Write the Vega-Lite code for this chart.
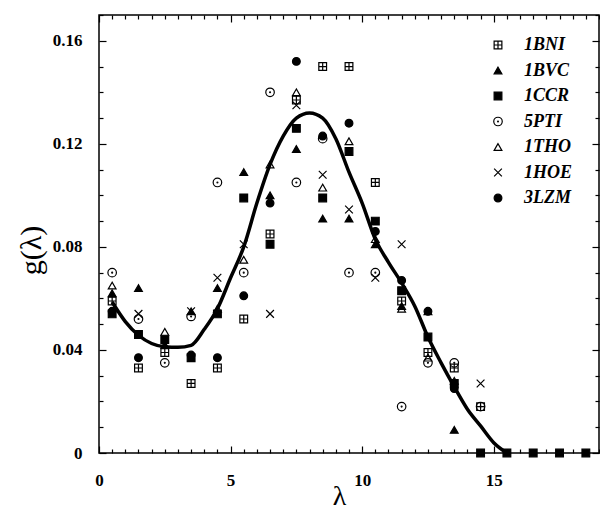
{
  "$schema": "https://vega.github.io/schema/vega-lite/v6.json",
  "width": 500,
  "height": 438,
  "autosize": {"type": "none"},
  "padding": {"left": 99, "top": 15, "right": 1, "bottom": 61},
  "background": "white",
  "config": {
    "view": {"stroke": "black", "strokeWidth": 1.5},
    "axis": {
      "domain": false,
      "grid": false,
      "labelFont": "Liberation Serif",
      "labelFontWeight": "bold",
      "labelFontSize": 17,
      "labelColor": "black",
      "labelOverlap": false,
      "labelFlush": false,
      "labelBound": false,
      "titleFont": "Liberation Serif",
      "titleFontWeight": "normal",
      "titleColor": "black"
    },
    "legend": {"padding": 0}
  },
  "datasets": {
    "points": [
      {"protein": "1BNI", "x": 0.5, "g": 0.059},
      {"protein": "1BNI", "x": 1.5, "g": 0.033},
      {"protein": "1BNI", "x": 2.5, "g": 0.039},
      {"protein": "1BNI", "x": 3.5, "g": 0.027},
      {"protein": "1BNI", "x": 4.5, "g": 0.033},
      {"protein": "1BNI", "x": 5.5, "g": 0.052},
      {"protein": "1BNI", "x": 6.5, "g": 0.085},
      {"protein": "1BNI", "x": 7.5, "g": 0.137},
      {"protein": "1BNI", "x": 8.5, "g": 0.150},
      {"protein": "1BNI", "x": 9.5, "g": 0.150},
      {"protein": "1BNI", "x": 10.5, "g": 0.105},
      {"protein": "1BNI", "x": 11.5, "g": 0.059},
      {"protein": "1BNI", "x": 12.5, "g": 0.039},
      {"protein": "1BNI", "x": 13.5, "g": 0.033},
      {"protein": "1BNI", "x": 14.5, "g": 0.018},
      {"protein": "1BVC", "x": 0.5, "g": 0.062},
      {"protein": "1BVC", "x": 1.5, "g": 0.064},
      {"protein": "1BVC", "x": 2.5, "g": 0.042},
      {"protein": "1BVC", "x": 3.5, "g": 0.055},
      {"protein": "1BVC", "x": 4.5, "g": 0.064},
      {"protein": "1BVC", "x": 5.5, "g": 0.109},
      {"protein": "1BVC", "x": 6.5, "g": 0.100},
      {"protein": "1BVC", "x": 7.5, "g": 0.118},
      {"protein": "1BVC", "x": 8.5, "g": 0.091},
      {"protein": "1BVC", "x": 9.5, "g": 0.091},
      {"protein": "1BVC", "x": 10.5, "g": 0.081},
      {"protein": "1BVC", "x": 11.5, "g": 0.057},
      {"protein": "1BVC", "x": 12.5, "g": 0.055},
      {"protein": "1BVC", "x": 13.5, "g": 0.009},
      {"protein": "1CCR", "x": 0.5, "g": 0.054},
      {"protein": "1CCR", "x": 1.5, "g": 0.046},
      {"protein": "1CCR", "x": 2.5, "g": 0.044},
      {"protein": "1CCR", "x": 3.5, "g": 0.037},
      {"protein": "1CCR", "x": 4.5, "g": 0.054},
      {"protein": "1CCR", "x": 5.5, "g": 0.099},
      {"protein": "1CCR", "x": 6.5, "g": 0.081},
      {"protein": "1CCR", "x": 7.5, "g": 0.126},
      {"protein": "1CCR", "x": 8.5, "g": 0.099},
      {"protein": "1CCR", "x": 9.5, "g": 0.117},
      {"protein": "1CCR", "x": 10.5, "g": 0.090},
      {"protein": "1CCR", "x": 11.5, "g": 0.063},
      {"protein": "1CCR", "x": 12.5, "g": 0.045},
      {"protein": "1CCR", "x": 13.5, "g": 0.027},
      {"protein": "1CCR", "x": 14.5, "g": 0},
      {"protein": "1CCR", "x": 15.5, "g": 0},
      {"protein": "1CCR", "x": 16.5, "g": 0},
      {"protein": "1CCR", "x": 17.5, "g": 0},
      {"protein": "1CCR", "x": 18.5, "g": 0},
      {"protein": "5PTI", "x": 0.5, "g": 0.070},
      {"protein": "5PTI", "x": 1.5, "g": 0.052},
      {"protein": "5PTI", "x": 2.5, "g": 0.035},
      {"protein": "5PTI", "x": 3.5, "g": 0.053},
      {"protein": "5PTI", "x": 4.5, "g": 0.105},
      {"protein": "5PTI", "x": 5.5, "g": 0.070},
      {"protein": "5PTI", "x": 6.5, "g": 0.140},
      {"protein": "5PTI", "x": 7.5, "g": 0.105},
      {"protein": "5PTI", "x": 8.5, "g": 0.122},
      {"protein": "5PTI", "x": 9.5, "g": 0.070},
      {"protein": "5PTI", "x": 10.5, "g": 0.070},
      {"protein": "5PTI", "x": 11.5, "g": 0.018},
      {"protein": "5PTI", "x": 12.5, "g": 0.035},
      {"protein": "5PTI", "x": 13.5, "g": 0.035},
      {"protein": "5PTI", "x": 14.5, "g": 0.018},
      {"protein": "1THO", "x": 0.5, "g": 0.065},
      {"protein": "1THO", "x": 2.5, "g": 0.047},
      {"protein": "1THO", "x": 4.5, "g": 0.056},
      {"protein": "1THO", "x": 5.5, "g": 0.075},
      {"protein": "1THO", "x": 6.5, "g": 0.112},
      {"protein": "1THO", "x": 7.5, "g": 0.140},
      {"protein": "1THO", "x": 8.5, "g": 0.103},
      {"protein": "1THO", "x": 9.5, "g": 0.121},
      {"protein": "1THO", "x": 10.5, "g": 0.083},
      {"protein": "1THO", "x": 11.5, "g": 0.056},
      {"protein": "1THO", "x": 12.5, "g": 0.037},
      {"protein": "1THO", "x": 13.5, "g": 0.028},
      {"protein": "1HOE", "x": 1.5, "g": 0.054},
      {"protein": "1HOE", "x": 3.5, "g": 0.055},
      {"protein": "1HOE", "x": 4.5, "g": 0.068},
      {"protein": "1HOE", "x": 5.5, "g": 0.081},
      {"protein": "1HOE", "x": 6.5, "g": 0.054},
      {"protein": "1HOE", "x": 7.5, "g": 0.135},
      {"protein": "1HOE", "x": 8.5, "g": 0.108},
      {"protein": "1HOE", "x": 9.5, "g": 0.0945},
      {"protein": "1HOE", "x": 10.5, "g": 0.068},
      {"protein": "1HOE", "x": 11.5, "g": 0.081},
      {"protein": "1HOE", "x": 14.5, "g": 0.027},
      {"protein": "3LZM", "x": 0.5, "g": 0.055},
      {"protein": "3LZM", "x": 1.5, "g": 0.037},
      {"protein": "3LZM", "x": 3.5, "g": 0.038},
      {"protein": "3LZM", "x": 4.5, "g": 0.037},
      {"protein": "3LZM", "x": 5.5, "g": 0.061},
      {"protein": "3LZM", "x": 6.5, "g": 0.097},
      {"protein": "3LZM", "x": 7.5, "g": 0.152},
      {"protein": "3LZM", "x": 8.5, "g": 0.123},
      {"protein": "3LZM", "x": 9.5, "g": 0.128},
      {"protein": "3LZM", "x": 10.5, "g": 0.086},
      {"protein": "3LZM", "x": 11.5, "g": 0.067},
      {"protein": "3LZM", "x": 12.5, "g": 0.055},
      {"protein": "3LZM", "x": 13.5, "g": 0.025}
    ],
    "curve": [
      {"x": 0.5, "g": 0.0586},
      {"x": 1.0, "g": 0.0510},
      {"x": 1.5, "g": 0.0457},
      {"x": 2.0, "g": 0.0425},
      {"x": 2.5, "g": 0.0412},
      {"x": 3.0, "g": 0.0410},
      {"x": 3.5, "g": 0.0418},
      {"x": 4.0, "g": 0.0480},
      {"x": 4.5, "g": 0.0560},
      {"x": 5.0, "g": 0.0680},
      {"x": 5.5, "g": 0.0800},
      {"x": 6.0, "g": 0.0970},
      {"x": 6.5, "g": 0.1120},
      {"x": 7.0, "g": 0.1230},
      {"x": 7.5, "g": 0.1300},
      {"x": 8.0, "g": 0.1320},
      {"x": 8.5, "g": 0.1300},
      {"x": 9.0, "g": 0.1220},
      {"x": 9.5, "g": 0.1090},
      {"x": 10.0, "g": 0.0970},
      {"x": 10.5, "g": 0.0830},
      {"x": 11.0, "g": 0.0740},
      {"x": 11.5, "g": 0.0660},
      {"x": 12.0, "g": 0.0570},
      {"x": 12.5, "g": 0.0450},
      {"x": 13.0, "g": 0.0350},
      {"x": 13.5, "g": 0.0257},
      {"x": 14.0, "g": 0.0170},
      {"x": 14.5, "g": 0.0105},
      {"x": 15.0, "g": 0.0040},
      {"x": 15.5, "g": 0.0}
    ]
  },
  "layer": [
    {
      "data": {"name": "curve"},
      "mark": {"type": "line", "color": "black", "strokeWidth": 3.5, "interpolate": "monotone"},
      "encoding": {
        "x": {
          "field": "x", "type": "quantitative",
          "scale": {"domain": [0, 19], "nice": false, "zero": false},
          "axis": {
            "orient": "top", "labels": false, "title": null, "ticks": true, "tickColor": "black", "tickWidth": 1.2, "tickOpacity": 1, "zindex": 1,
            "tickCount": 38,
            "tickSize": {"condition": {"test": "datum.value % 5 === 0", "value": -7}, "value": -4}
          }
        },
        "y": {
          "field": "g", "type": "quantitative",
          "scale": {"domain": [0, 0.17], "nice": false},
          "axis": {
            "orient": "right", "labels": false, "title": null, "ticks": true, "tickColor": "black", "tickWidth": 1.2, "tickOpacity": 1, "zindex": 1,
            "tickCount": 17,
            "tickSize": {"condition": {"test": "round(datum.value*100) % 4 === 0", "value": -7}, "value": -4}
          }
        }
      }
    },
    {
      "data": {"name": "points"},
      "mark": {"type": "point", "filled": true, "stroke": "black", "strokeWidth": 1.2, "opacity": 1, "size": 60},
      "encoding": {
        "x": {
          "field": "x", "type": "quantitative",
          "axis": {
            "orient": "bottom", "title": "λ", "titleFontSize": 28,
            "titleX": 240, "titleY": 43, "titleBaseline": "middle",
            "ticks": true, "tickColor": "black", "tickWidth": 1.2, "tickOpacity": 1, "zindex": 1,
            "tickCount": 38,
            "labelExpr": "datum.value % 5 === 0 ? format(datum.value, 'd') : ''",
            "labelPadding": 26,
            "tickSize": {"condition": {"test": "datum.value % 5 === 0", "value": -7}, "value": -4}
          }
        },
        "y": {
          "field": "g", "type": "quantitative",
          "axis": {
            "orient": "left", "title": "g(λ)", "titleFontSize": 30,
            "titleX": -68, "titleY": 235, "titleBaseline": "middle", "titleAlign": "center", "titleAngle": 270,
            "ticks": true, "tickColor": "black", "tickWidth": 1.2, "tickOpacity": 1, "zindex": 1,
            "tickCount": 17,
            "labelExpr": "datum.value === 0 ? '0' : (round(datum.value*100) % 4 === 0 ? format(datum.value, '.2f') : '')",
            "labelPadding": 24,
            "tickSize": {"condition": {"test": "round(datum.value*100) % 4 === 0", "value": -7}, "value": -4}
          }
        },
        "shape": {
          "field": "protein", "type": "nominal",
          "scale": {
            "domain": ["1BNI", "1BVC", "1CCR", "5PTI", "1THO", "1HOE", "3LZM"],
            "range": [
              "M-1,-1H1V1H-1Z M0,-1V1 M-1,0H1",
              "triangle-up",
              "square",
              "M-1.1,0A1.1,1.1 0 1,1 1.1,0A1.1,1.1 0 1,1 -1.1,0Z M-0.12,0A0.12,0.12 0 1,1 0.12,0A0.12,0.12 0 1,1 -0.12,0Z",
              "triangle-up",
              "M-1,-1L1,1M-1,1L1,-1",
              "circle"
            ]
          },
          "legend": {
            "title": null, "orient": "none", "legendX": 390, "legendY": 21,
            "labelFont": "Liberation Serif", "labelFontSize": 18, "labelFontStyle": "italic", "labelFontWeight": "bold", "labelColor": "black",
            "symbolSize": 60, "symbolStrokeWidth": 1.2, "symbolStrokeColor": "black",
            "rowPadding": 7.5, "labelOffset": 17
          }
        },
        "fill": {
          "field": "protein", "type": "nominal",
          "scale": {
            "domain": ["1BNI", "1BVC", "1CCR", "5PTI", "1THO", "1HOE", "3LZM"],
            "range": ["transparent", "black", "black", "transparent", "transparent", "transparent", "black"]
          },
          "legend": {
            "title": null, "orient": "none", "legendX": 390, "legendY": 21,
            "labelFont": "Liberation Serif", "labelFontSize": 18, "labelFontStyle": "italic", "labelFontWeight": "bold", "labelColor": "black",
            "symbolSize": 60, "symbolStrokeWidth": 1.2, "symbolStrokeColor": "black",
            "rowPadding": 7.5, "labelOffset": 17
          }
        },
        "stroke": {
          "field": "protein", "type": "nominal",
          "scale": {
            "domain": ["1BNI", "1BVC", "1CCR", "5PTI", "1THO", "1HOE", "3LZM"],
            "range": ["black", "black", "black", "black", "black", "black", "black"]
          },
          "legend": {
            "title": null, "orient": "none", "legendX": 390, "legendY": 21,
            "labelFont": "Liberation Serif", "labelFontSize": 18, "labelFontStyle": "italic", "labelFontWeight": "bold", "labelColor": "black",
            "symbolSize": 60, "symbolStrokeWidth": 1.2, "symbolStrokeColor": "black",
            "rowPadding": 7.5, "labelOffset": 17
          }
        }
      }
    }
  ],
  "resolve": {"axis": {"x": "independent", "y": "independent"}}
}
